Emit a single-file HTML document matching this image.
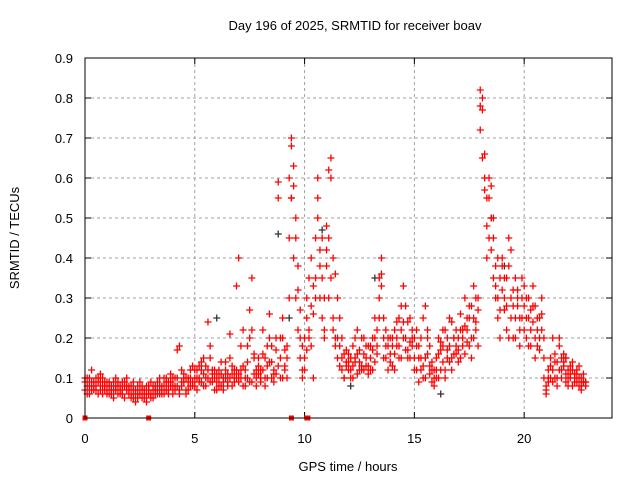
<!DOCTYPE html>
<html><head><meta charset="utf-8"><style>
body{margin:0;background:#fff;}
svg{display:block;font-family:"Liberation Sans",sans-serif;}
</style></head><body>
<svg id="chart" width="640" height="480" viewBox="0 0 640 480">
<rect width="640" height="480" fill="#fff"/>
<text x="355" y="30" font-size="13" text-anchor="middle">Day 196 of 2025, SRMTID for receiver boav</text>
<text transform="translate(19,238) rotate(-90)" font-size="13" text-anchor="middle">SRMTID / TECUs</text>
<text x="348" y="471" font-size="13" text-anchor="middle">GPS time / hours</text>
<g id="grid"></g><g id="ticks"></g><g id="marks"></g>
<rect x="85" y="58" width="527" height="360" fill="none" stroke="#000" stroke-width="1"/>
</svg>
<script>
const hours=[0,0.1,0.2,0.3,0.4,0.5,0.6,0.7,0.8,0.9,1,1.1,1.2,1.3,1.4,1.5,1.6,1.7,1.8,1.9,2,2.1,2.2,2.3,2.4,2.5,2.6,2.7,2.8,2.9,3,3.1,3.2,3.3,3.4,3.5,3.6,3.7,3.8,3.9,4,4.1,4.2,4.3,4.4,4.5,4.6,4.7,4.8,4.9,5,5.1,5.2,5.3,5.4,5.5,5.6,5.7,5.8,5.9,6,6.1,6.2,6.3,6.4,6.5,6.6,6.7,6.8,6.9,7,7.1,7.2,7.3,7.4,7.5,7.6,7.7,7.8,7.9,8,8.1,8.2,8.3,8.4,8.5,8.6,8.7,8.8,8.9,9,9.1,9.2,9.3,9.4,9.5,9.6,9.7,9.8,9.9,10,10.1,10.2,10.3,10.4,10.5,10.6,10.7,10.8,10.9,11,11.1,11.2,11.3,11.4,11.5,11.6,11.7,11.8,11.9,12,12.1,12.2,12.3,12.4,12.5,12.6,12.7,12.8,12.9,13,13.1,13.2,13.3,13.4,13.5,13.6,13.7,13.8,13.9,14,14.1,14.2,14.3,14.4,14.5,14.6,14.7,14.8,14.9,15,15.1,15.2,15.3,15.4,15.5,15.6,15.7,15.8,15.9,16,16.1,16.2,16.3,16.4,16.5,16.6,16.7,16.8,16.9,17,17.1,17.2,17.3,17.4,17.5,17.6,17.7,17.8,17.9,18,18.1,18.2,18.3,18.4,18.5,18.6,18.7,18.8,18.9,19,19.1,19.2,19.3,19.4,19.5,19.6,19.7,19.8,19.9,20,20.1,20.2,20.3,20.4,20.5,20.6,20.7,20.8,20.9,21,21.1,21.2,21.3,21.4,21.5,21.6,21.7,21.8,21.9,22,22.1,22.2,22.3,22.4,22.5,22.6,22.7,22.8];
const seriesA=[.09,.08,.1,.07,.09,.08,.1,.07,.08,.09,.07,.08,.06,.09,.07,.08,.06,.07,.09,.07,.06,.08,.05,.07,.06,.09,.07,.05,.06,.08,.06,.08,.07,.09,.06,.08,.1,.07,.09,.08,.08,.1,.17,.18,.08,.1,.07,.09,.12,.08,.1,.12,.09,.14,.11,.1,.24,.18,.12,.1,.09,.12,.08,.1,.14,.11,.21,.13,.1,.33,.4,.12,.22,.1,.14,.27,.35,.15,.1,.13,.12,.16,.1,.18,.2,.14,.11,.17,.55,.15,.25,.13,.18,.6,.7,.63,.5,.38,.27,.18,.15,.3,.22,.18,.33,.45,.6,.42,.35,.3,.48,.45,.6,.4,.36,.3,.25,.2,.16,.13,.12,.15,.18,.14,.22,.12,.2,.16,.13,.18,.15,.2,.25,.18,.35,.4,.25,.22,.18,.14,.2,.16,.24,.18,.28,.33,.2,.24,.19,.22,.15,.22,.18,.12,.25,.28,.16,.11,.14,.1,.12,.2,.17,.14,.22,.15,.18,.24,.2,.16,.17,.26,.22,.3,.19,.25,.28,.33,.22,.3,.82,.77,.66,.55,.6,.5,.45,.38,.3,.35,.4,.3,.28,.45,.25,.32,.35,.28,.22,.3,.33,.25,.3,.22,.28,.2,.18,.25,.3,.15,.08,.12,.15,.2,.1,.14,.18,.12,.16,.11,.12,.1,.14,.09,.11,.08,.1,.09,.09];
const seriesB=[.07,.1,.06,.12,.08,.07,.09,.11,.06,.08,.09,.06,.08,.07,.1,.06,.08,.09,.05,.08,.08,.05,.07,.04,.08,.06,.05,.07,.08,.06,.09,.05,.06,.07,.1,.06,.08,.09,.06,.11,.06,.08,.1,.07,.12,.09,.06,.1,.08,.13,.08,.1,.13,.09,.15,.08,.12,.09,.11,.07,.11,.08,.14,.07,.1,.09,.15,.08,.12,.1,.09,.18,.08,.12,.1,.2,.09,.16,.12,.11,.1,.22,.08,.13,.26,.1,.12,.2,.59,.1,.2,.12,.15,.45,.55,.4,.3,.22,.15,.12,.2,.25,.35,.28,.1,.3,.5,.38,.25,.22,.38,.3,.65,.25,.2,.15,.18,.12,.1,.14,.16,.1,.13,.2,.11,.17,.12,.2,.15,.11,.12,.17,.14,.22,.3,.33,.2,.15,.12,.2,.13,.22,.18,.25,.15,.2,.28,.17,.15,.18,.2,.12,.15,.2,.1,.15,.2,.13,.09,.12,.1,.16,.12,.18,.1,.2,.14,.12,.16,.22,.2,.15,.18,.23,.25,.18,.2,.25,.3,.18,.72,.8,.6,.48,.55,.42,.5,.33,.4,.27,.32,.35,.22,.38,.3,.2,.25,.32,.18,.25,.28,.2,.25,.18,.33,.15,.25,.2,.22,.1,.07,.1,.13,.09,.16,.1,.12,.15,.13,.09,.1,.13,.08,.11,.12,.1,.08,.09,.08];
const seriesC=[.1,.06,.08,.09,.07,.1,.06,.09,.1,.07,.06,.09,.07,.05,.08,.09,.07,.06,.08,.1,.07,.06,.09,.06,.05,.07,.08,.06,.04,.07,.05,.07,.08,.06,.08,.07,.06,.1,.07,.09,.1,.07,.08,.06,.09,.11,.1,.07,.1,.09,.12,.07,.1,.12,.08,.13,.1,.15,.09,.12,.07,.1,.11,.09,.12,.08,.1,.11,.09,.12,.11,.1,.13,.08,.18,.09,.22,.11,.08,.15,.09,.12,.15,.1,.14,.18,.09,.11,.13,.2,.1,.17,.1,.3,.68,.58,.45,.32,.2,.1,.12,.17,.2,.4,.26,.35,.55,.3,.45,.2,.42,.62,.35,.22,.18,.2,.13,.15,.1,.17,.14,.12,.1,.15,.16,.14,.13,.12,.18,.13,.18,.12,.2,.16,.25,.36,.15,.18,.2,.16,.18,.12,.2,.15,.22,.24,.17,.15,.25,.2,.12,.18,.09,.15,.13,.1,.22,.18,.12,.08,.15,.1,.19,.22,.12,.17,.25,.15,.2,.18,.14,.22,.2,.16,.22,.28,.15,.2,.24,.27,.78,.65,.57,.4,.45,.58,.35,.3,.25,.2,.38,.27,.35,.2,.42,.28,.2,.3,.25,.35,.22,.3,.18,.27,.24,.28,.22,.17,.26,.2,.06,.09,.1,.12,.14,.08,.2,.1,.14,.15,.08,.11,.12,.1,.09,.13,.07,.11,.09];
const grayHours=[6.0,8.8,9.3,9.4,10.8,12.1,13.2,16.2,18.5,19.1,21.9];
const grayValues=[.25,.46,.25,.55,.47,.08,.35,.06,.5,.38,.15];
const zeroHours=[0,2.9,9.4,10.1,10.15];
const xTicks=[0,5,10,15,20];
const yTicks=[0,0.1,0.2,0.3,0.4,0.5,0.6,0.7,0.8,0.9];
const yTickLabels=["0","0.1","0.2","0.3","0.4","0.5","0.6","0.7","0.8","0.9"];

const NS="http://www.w3.org/2000/svg";
const L=85,R=612,T=58,B=418;
const xs=h=>L+h/24*(R-L);
const ys=v=>B-v/0.9*(B-T);
function mk(tag,attrs,parent){const e=document.createElementNS(NS,tag);for(const k in attrs)e.setAttribute(k,attrs[k]);parent.appendChild(e);return e;}
const grid=document.getElementById('grid'),ticks=document.getElementById('ticks'),marks=document.getElementById('marks');
yTicks.forEach((v,i)=>{
  const y=ys(v);
  if(i>0&&i<yTicks.length-1){const g=mk('line',{x1:L,x2:R,y1:y,y2:y,stroke:'#a0a0a0','stroke-dasharray':'3,3'},grid);
  
  }
  mk('line',{x1:L,x2:L+6,y1:y,y2:y,stroke:'#000'},ticks);
  mk('line',{x1:R-6,x2:R,y1:y,y2:y,stroke:'#000'},ticks);
  const t=mk('text',{x:L-12,y:y+5,'font-size':13,'text-anchor':'end'},ticks);
  t.textContent=yTickLabels[i];
  
  
});
xTicks.forEach((h,i)=>{
  const x=xs(h);
  if(i>0){const g=mk('line',{x1:x,x2:x,y1:T,y2:B,stroke:'#a0a0a0','stroke-dasharray':'3,3'},grid);
  
  }
  mk('line',{x1:x,x2:x,y1:B,y2:B-6,stroke:'#000'},ticks);
  mk('line',{x1:x,x2:x,y1:T,y2:T+6,stroke:'#000'},ticks);
  const t=mk('text',{x:x,y:443,'font-size':13,'text-anchor':'middle'},ticks);
  t.textContent=String(h);
  
  
});
function plus(h,v,color,name){
  const x=xs(h),y=ys(v);
  const p=mk('path',{d:`M${x-3.5},${y}h7M${x},${y-3.5}v7`,stroke:color,'stroke-width':1.3,fill:'none'},marks);
  
  
}
grayHours.forEach((h,i)=>plus(h,grayValues[i],'#333','gray-point'));
[seriesA,seriesB,seriesC].forEach(s=>s.forEach((v,i)=>plus(hours[i],v,'#f00','srmtid-point')));
zeroHours.forEach(h=>{
  const r=mk('rect',{x:xs(h)-2.5,y:B-2.5,width:5,height:5,fill:'#f00'},marks);
  
  
});
</script>
</body></html>
